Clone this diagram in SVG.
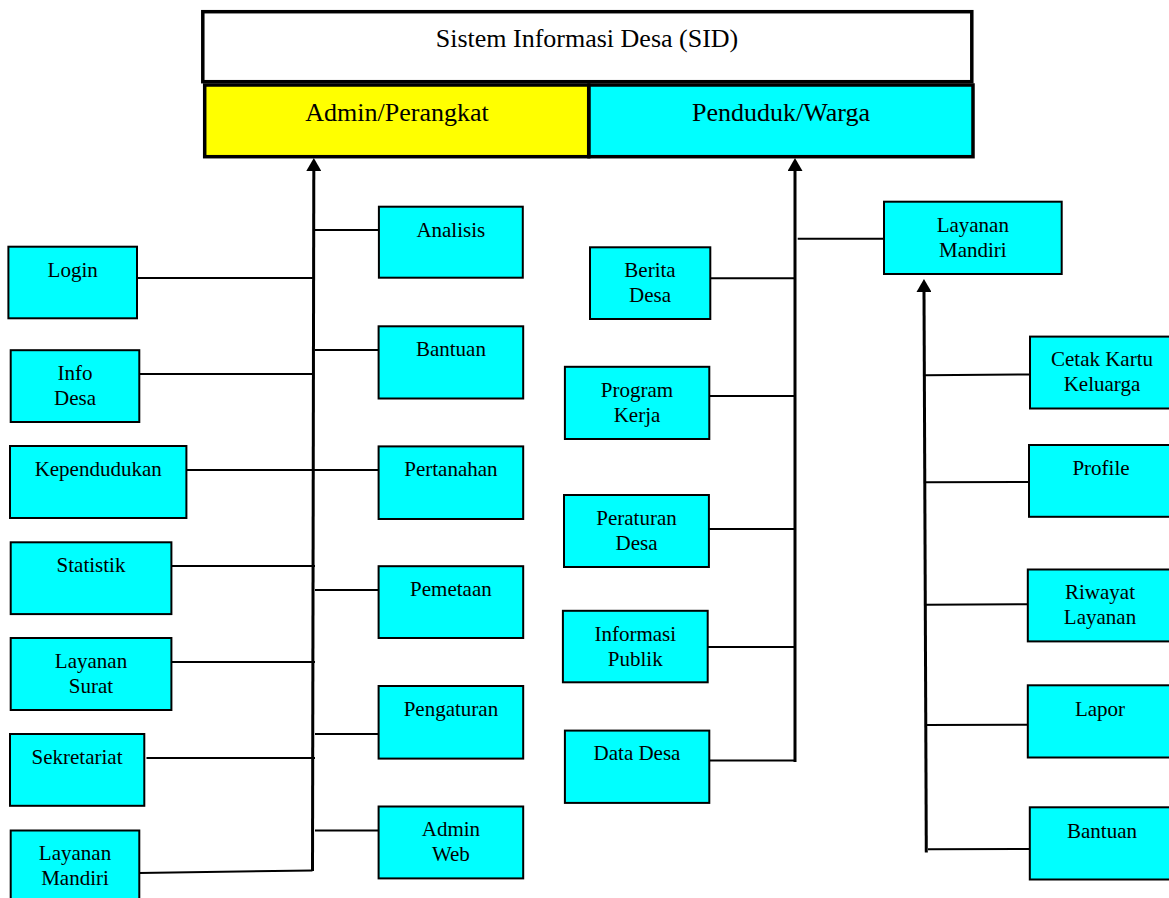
<svg xmlns="http://www.w3.org/2000/svg" width="1169" height="898" viewBox="0 0 1169 898">
<style>
text{font-family:"Liberation Serif","Times New Roman",serif;fill:#000;text-anchor:middle}
.lbl{font-size:21px}
.hdr{font-size:26px}
.box{fill:#00FFFF;stroke:#000;stroke-width:2}
.top{stroke:#000;stroke-width:3.5}
.c{stroke:#000;stroke-width:2;fill:none}
.t{stroke:#000;stroke-width:3;fill:none}
</style>
<defs>
<marker id="arr" markerUnits="userSpaceOnUse" markerWidth="13" markerHeight="15" viewBox="0 -7.5 13 15" refX="0" refY="0" orient="auto">
<path d="M0,-7.5 L13,0 L0,7.5 Z" fill="#000"/>
</marker>
</defs>
<rect width="1169" height="898" fill="#fff"/>

<g id="connectors">
<line class="t" x1="312.5" y1="871" x2="313.8" y2="171" marker-end="url(#arr)"/>
<line class="t" x1="795" y1="762" x2="795" y2="171" marker-end="url(#arr)"/>
<line class="t" x1="926.3" y1="852.6" x2="924" y2="292" marker-end="url(#arr)"/>
<line class="c" x1="137" y1="278" x2="313" y2="278"/>
<line class="c" x1="139" y1="374" x2="313" y2="374"/>
<line class="c" x1="186" y1="470" x2="378" y2="470"/>
<line class="c" x1="171" y1="566" x2="315" y2="566"/>
<line class="c" x1="171" y1="662" x2="315" y2="662"/>
<line class="c" x1="146.5" y1="758" x2="315" y2="758"/>
<line class="c" x1="139" y1="873" x2="312.5" y2="870.5"/>
<line class="c" x1="315" y1="230" x2="378" y2="230"/>
<line class="c" x1="315" y1="350" x2="378" y2="350"/>
<line class="c" x1="315" y1="590" x2="378" y2="590"/>
<line class="c" x1="315" y1="734" x2="378" y2="734"/>
<line class="c" x1="315" y1="830.5" x2="378" y2="830.5"/>
<line class="c" x1="710" y1="278.3" x2="795" y2="278.3"/>
<line class="c" x1="709" y1="396" x2="795" y2="396"/>
<line class="c" x1="709" y1="529" x2="795" y2="529"/>
<line class="c" x1="708" y1="647" x2="795" y2="647"/>
<line class="c" x1="709" y1="760.5" x2="795" y2="760.5"/>
<line class="c" x1="797.7" y1="238.7" x2="884" y2="238.7"/>
<line class="c" x1="925" y1="375.3" x2="1030" y2="374.5"/>
<line class="c" x1="925" y1="482.3" x2="1029" y2="482"/>
<line class="c" x1="925.5" y1="604.7" x2="1028" y2="604.3"/>
<line class="c" x1="925.8" y1="725" x2="1028" y2="724.7"/>
<line class="c" x1="928" y1="849.2" x2="1030" y2="849"/>
</g>

<g id="sid">
<rect class="top" x="202.8" y="11.7" width="769" height="70" fill="#fff"/>
<text class="hdr" x="587" y="47">Sistem Informasi Desa (SID)</text>
</g>
<g id="admin">
<rect class="top" x="204.7" y="85" width="384" height="71.7" fill="#FFFF00"/>
<text class="hdr" x="397" y="121">Admin/Perangkat</text>
</g>
<g id="penduduk">
<rect class="top" x="589" y="85" width="384" height="71.7" fill="#00FFFF"/>
<text class="hdr" x="781" y="121">Penduduk/Warga</text>
</g>

<g id="login"><rect class="box" x="8.4" y="246.7" width="128.6" height="71.6"/><text class="lbl" x="72.7" y="277">Login</text></g>
<g id="info-desa"><rect class="box" x="10.7" y="350.2" width="128.6" height="71.8"/><text class="lbl" x="75" y="380">Info</text><text class="lbl" x="75" y="405">Desa</text></g>
<g id="kependudukan"><rect class="box" x="10" y="446" width="176.4" height="72"/><text class="lbl" x="98.2" y="476">Kependudukan</text></g>
<g id="statistik"><rect class="box" x="10.7" y="542.3" width="160.7" height="71.8"/><text class="lbl" x="91" y="572">Statistik</text></g>
<g id="layanan-surat"><rect class="box" x="10.7" y="638" width="160.7" height="72"/><text class="lbl" x="91" y="668">Layanan</text><text class="lbl" x="91" y="693">Surat</text></g>
<g id="sekretariat"><rect class="box" x="10" y="734" width="134.3" height="71.8"/><text class="lbl" x="77" y="764">Sekretariat</text></g>
<g id="layanan-mandiri-admin"><rect class="box" x="10.7" y="830.5" width="128.6" height="72"/><text class="lbl" x="75" y="860">Layanan</text><text class="lbl" x="75" y="885">Mandiri</text></g>

<g id="analisis"><rect class="box" x="378.9" y="206.7" width="143.9" height="71"/><text class="lbl" x="450.8" y="237">Analisis</text></g>
<g id="bantuan-admin"><rect class="box" x="378.6" y="326.3" width="144.6" height="72.2"/><text class="lbl" x="450.9" y="356">Bantuan</text></g>
<g id="pertanahan"><rect class="box" x="378.6" y="446.4" width="144.6" height="72.6"/><text class="lbl" x="450.9" y="476">Pertanahan</text></g>
<g id="pemetaan"><rect class="box" x="378.6" y="566.2" width="144.6" height="71.8"/><text class="lbl" x="450.9" y="596">Pemetaan</text></g>
<g id="pengaturan"><rect class="box" x="378.6" y="686" width="144.6" height="72.6"/><text class="lbl" x="450.9" y="716">Pengaturan</text></g>
<g id="admin-web"><rect class="box" x="378.6" y="806.5" width="144.6" height="71.9"/><text class="lbl" x="450.9" y="836">Admin</text><text class="lbl" x="450.9" y="861">Web</text></g>

<g id="berita-desa"><rect class="box" x="590" y="247.3" width="120.3" height="71.7"/><text class="lbl" x="650" y="277">Berita</text><text class="lbl" x="650" y="302">Desa</text></g>
<g id="program-kerja"><rect class="box" x="564.9" y="366.8" width="144.4" height="72.2"/><text class="lbl" x="637" y="397">Program</text><text class="lbl" x="637" y="422">Kerja</text></g>
<g id="peraturan-desa"><rect class="box" x="564" y="495" width="144.9" height="72"/><text class="lbl" x="636.5" y="525">Peraturan</text><text class="lbl" x="636.5" y="550">Desa</text></g>
<g id="informasi-publik"><rect class="box" x="562.9" y="610.8" width="144.8" height="71.5"/><text class="lbl" x="635.3" y="641">Informasi</text><text class="lbl" x="635.3" y="666">Publik</text></g>
<g id="data-desa"><rect class="box" x="564.9" y="730.6" width="144.4" height="72.3"/><text class="lbl" x="637" y="760">Data Desa</text></g>

<g id="layanan-mandiri"><rect class="box" x="884" y="201.7" width="177.7" height="72.3"/><text class="lbl" x="972.8" y="232">Layanan</text><text class="lbl" x="972.8" y="256.5">Mandiri</text></g>
<g id="cetak-kartu"><rect class="box" x="1030" y="336.6" width="144" height="71.9"/><text class="lbl" x="1102" y="366">Cetak Kartu</text><text class="lbl" x="1102" y="391">Keluarga</text></g>
<g id="profile"><rect class="box" x="1029" y="445" width="145" height="71.8"/><text class="lbl" x="1101" y="475">Profile</text></g>
<g id="riwayat-layanan"><rect class="box" x="1027.8" y="569.5" width="146" height="71.9"/><text class="lbl" x="1100" y="599">Riwayat</text><text class="lbl" x="1100" y="624">Layanan</text></g>
<g id="lapor"><rect class="box" x="1027.8" y="685.3" width="146" height="72.2"/><text class="lbl" x="1100" y="716">Lapor</text></g>
<g id="bantuan-warga"><rect class="box" x="1029.8" y="807.3" width="144" height="72.2"/><text class="lbl" x="1102" y="838">Bantuan</text></g>
</svg>
